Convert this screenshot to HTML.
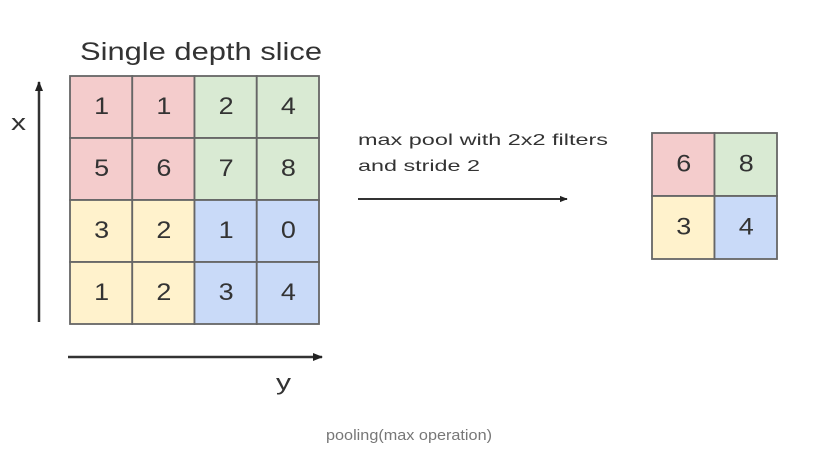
<!DOCTYPE html>
<html><head><meta charset="utf-8"><style>
html,body{margin:0;padding:0;background:#fff;width:816px;height:459px;overflow:hidden}
svg{display:block;font-family:"Liberation Sans",Arial,sans-serif}
</style></head><body>
<svg id="fig" width="816" height="459" viewBox="0 0 816 459">
<defs><marker id="ah" viewBox="0 0 10 10" refX="9" refY="5" markerWidth="4" markerHeight="4" orient="auto"><path d="M0,1 L10,5 L0,9 z" fill="#222"/></marker></defs>
<text x="80" y="60" font-size="25" fill="#333" textLength="242" lengthAdjust="spacingAndGlyphs">Single depth slice</text>
<line x1="39" y1="322" x2="39" y2="82" stroke="#333" stroke-width="2.5" marker-end="url(#ah)"/>
<text x="11" y="130" font-size="22" fill="#333" textLength="15" lengthAdjust="spacingAndGlyphs">x</text>
<line x1="68" y1="357" x2="322" y2="357" stroke="#333" stroke-width="2.5" marker-end="url(#ah)"/>
<text x="276" y="390" font-size="22" fill="#333" textLength="15" lengthAdjust="spacingAndGlyphs">y</text>
<text x="358" y="145" font-size="16" fill="#333" textLength="250" lengthAdjust="spacingAndGlyphs">max pool with 2x2 filters</text>
<text x="358" y="171" font-size="16" fill="#333" textLength="122" lengthAdjust="spacingAndGlyphs">and stride 2</text>
<line x1="358" y1="199" x2="567" y2="199" stroke="#333" stroke-width="2" marker-end="url(#ah)"/>
<g id="inGrid"></g>
<g id="outGrid"></g>
<text x="326" y="440" font-size="15" fill="#777" textLength="166" lengthAdjust="spacingAndGlyphs">pooling(max operation)</text>
</svg>
<script>
const inputVals = [[1,1,2,4],[5,6,7,8],[3,2,1,0],[1,2,3,4]];
const outputVals = [[6,8],[3,4]];
const quadColors = [["#f4cccc","#d9ead3"],["#fff2cc","#c9daf8"]];
const NS = "http://www.w3.org/2000/svg";
function drawGrid(g, vals, x0, y0, cw, ch, fs, quadSize, prefix){
  vals.forEach((row, r) => row.forEach((v, c) => {
    const rect = document.createElementNS(NS, "rect");
    rect.setAttribute("x", x0 + c*cw); rect.setAttribute("y", y0 + r*ch);
    rect.setAttribute("width", cw); rect.setAttribute("height", ch);
    rect.setAttribute("fill", quadColors[Math.floor(r/quadSize)][Math.floor(c/quadSize)]);
    rect.setAttribute("stroke", "#666"); rect.setAttribute("stroke-width", "1.8");
    
    
    g.appendChild(rect);
    const t = document.createElementNS(NS, "text");
    t.setAttribute("x", x0 + c*cw + cw/2 - 7); t.setAttribute("y", y0 + r*ch + ch/2 + fs*0.3);
    t.setAttribute("font-size", fs); t.setAttribute("fill", "#333");
    t.setAttribute("textLength", "15"); t.setAttribute("lengthAdjust", "spacingAndGlyphs");
    t.textContent = v;
    
    
    g.appendChild(t);
  }));
}
drawGrid(document.getElementById("inGrid"), inputVals, 70, 76, 62.25, 62, 24, 2, "input");
drawGrid(document.getElementById("outGrid"), outputVals, 652, 133, 62.5, 63, 24, 1, "output");
</script>
</body></html>
